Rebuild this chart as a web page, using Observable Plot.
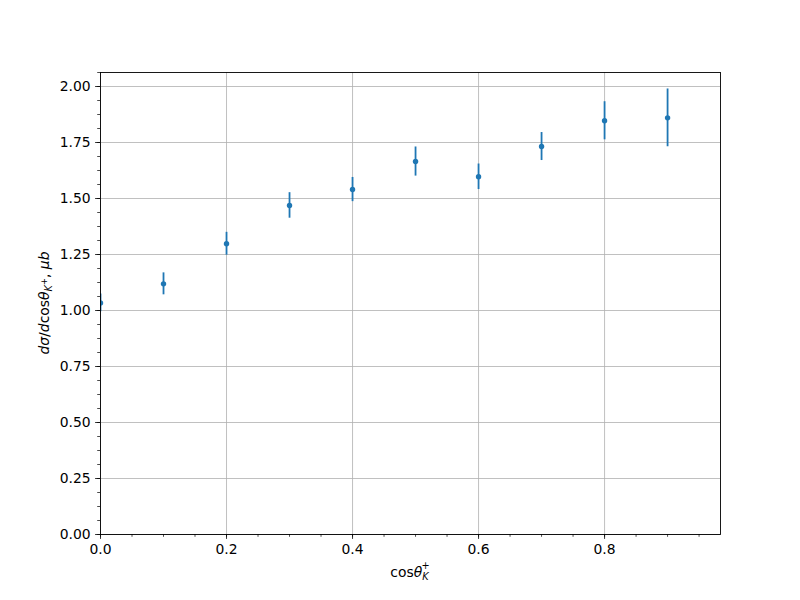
<!DOCTYPE html>
<html><head><meta charset="utf-8">
<script src="https://cdn.jsdelivr.net/npm/d3@7"></script>
<script src="https://cdn.jsdelivr.net/npm/@observablehq/plot@0.6"></script>
<style>body{margin:0;background:#fff}</style>
</head><body><div id="chart"></div>
<script>
const cosTheta = [0.0, 0.1, 0.2, 0.3, 0.4, 0.5, 0.6, 0.7, 0.8, 0.9];
const dSigma = [1.034, 1.119, 1.298, 1.469, 1.540, 1.665, 1.597, 1.732, 1.847, 1.860];
const dSigmaErr = [0.04, 0.049, 0.051, 0.057, 0.054, 0.065, 0.057, 0.0625, 0.085, 0.129];
const xTicks = [0.0, 0.2, 0.4, 0.6, 0.8];
const yTicks = [0.0, 0.25, 0.5, 0.75, 1.0, 1.25, 1.5, 1.75, 2.0];
const xMinor = [0,0.05,0.1,0.15,0.2,0.25,0.3,0.35,0.4,0.45,0.5,0.55,0.6,0.65,0.7,0.75,0.8,0.85,0.9,0.95];
const yMinor = [0,0.0625,0.125,0.1875,0.25,0.3125,0.375,0.4375,0.5,0.5625,0.625,0.6875,0.75,0.8125,0.875,0.9375,1.0,1.0625,1.125,1.1875,1.25,1.3125,1.375,1.4375,1.5,1.5625,1.625,1.6875,1.75,1.8125,1.875,1.9375,2.0,2.0625];

const data = cosTheta.map((x, i) => ({x, y: dSigma[i], e: dSigmaErr[i]}));
const blue = "#1f77b4";
const gridStyle = {stroke: "#b0b0b0", strokeOpacity: 1, strokeWidth: 0.8};

const chart = Plot.plot({
  width: 800, height: 600,
  marginLeft: 100, marginRight: 80, marginTop: 72, marginBottom: 66,
  style: {fontFamily: "DejaVu Sans", fontSize: "13.9px", background: "white", color: "black"},
  x: {domain: [0, 0.984]},
  y: {domain: [0, 2.0625]},
  marks: [
    Plot.gridX(xTicks, gridStyle),
    Plot.gridY(yTicks, gridStyle),
    Plot.ruleX(data, {x: "x", y1: d => d.y - d.e, y2: d => d.y + d.e, stroke: blue, strokeWidth: 1.8, clip: true}),
    Plot.dot(data, {x: "x", y: "y", r: 2.7, fill: blue, stroke: null, clip: true}),
    Plot.frame({stroke: "black", strokeWidth: 0.9}),
    Plot.axisX(xTicks, {tickSize: 4.9, tickPadding: 4.9, tickFormat: d3.format(".1f"), strokeWidth: 0.8, label: null}),
    Plot.axisX(xMinor, {tickSize: 2.8, tickFormat: () => "", strokeWidth: 0.7, label: null}),
    Plot.axisY(yTicks, {tickSize: 4.9, tickPadding: 4.9, tickFormat: d3.format(".2f"), strokeWidth: 0.8, label: null}),
    Plot.axisY(yMinor, {tickSize: 2.8, tickFormat: () => "", strokeWidth: 0.7, label: null})
  ]
});
document.getElementById("chart").appendChild(chart);

const svg = d3.select(chart);
// x label: cos θ_K^+
const xl = svg.append("text").attr("x", 410).attr("y", 577).attr("text-anchor", "middle")
  .attr("font-family", "DejaVu Sans").attr("font-size", 13.9).attr("fill", "black");
xl.append("tspan").text("cos");
xl.append("tspan").attr("font-style", "italic").text("θ");
xl.append("tspan").attr("font-style", "italic").attr("font-size", 9.7).attr("dy", 3).text("K");
xl.append("tspan").attr("font-size", 9.7).attr("dx", -7).attr("dy", -11).text("+");

// y label: dσ/dcosθ_{K+}, μb
const yl = svg.append("text").attr("transform", "translate(49,303) rotate(-90)").attr("text-anchor", "middle")
  .attr("font-family", "DejaVu Sans").attr("font-size", 13.9).attr("fill", "black");
yl.append("tspan").attr("font-style", "italic").text("dσ");
yl.append("tspan").text("/");
yl.append("tspan").attr("font-style", "italic").text("d");
yl.append("tspan").text("cos");
yl.append("tspan").attr("font-style", "italic").text("θ");
yl.append("tspan").attr("font-style", "italic").attr("font-size", 9.7).attr("dy", 3).text("K");
yl.append("tspan").attr("font-size", 8.5).attr("dy", -5).text("+");
yl.append("tspan").attr("dy", 2).text(", ");
yl.append("tspan").attr("font-style", "italic").text("μb");
</script>
</body></html>
